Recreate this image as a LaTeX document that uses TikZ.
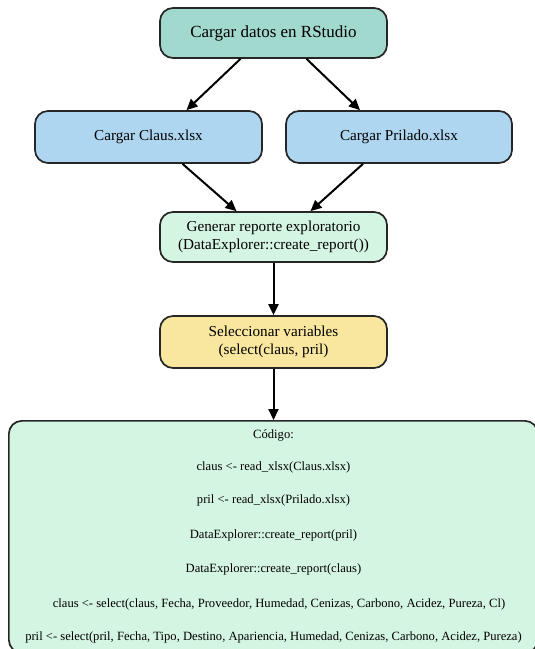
\documentclass[tikz,border=0pt]{standalone}
\usepackage{fontspec}
\setmainfont{Liberation Serif}
\usetikzlibrary{arrows.meta}
\definecolor{cTop}{HTML}{A2D9CE}
\definecolor{cBlue}{HTML}{AED6F1}
\definecolor{cGreen}{HTML}{D5F5E3}
\definecolor{cYellow}{HTML}{F9E79F}
\tikzset{
  box/.style={draw=black!85, line width=1.7pt, rounded corners=13pt, align=center, inner sep=0pt},
  arr/.style={line width=2pt, -{Triangle[length=11pt,width=10pt]}},
  codetxt/.style={font=\fontsize{12.6}{14}\selectfont, inner sep=0pt, anchor=center}
}
\begin{document}
\begin{tikzpicture}[x=1pt,y=1pt]
\useasboundingbox (0,0) rectangle (535,-649);
\clip (0,0) rectangle (535,-649);
\node[box, fill=cTop, minimum width=227pt, minimum height=50pt, font=\fontsize{17}{19}\selectfont] (top) at (273.5,-33) {Cargar datos en RStudio};
\node[box, fill=cBlue, minimum width=227pt, minimum height=52pt, font=\fontsize{15.2}{17}\selectfont] (claus) at (148.5,-137) {Cargar Claus.xlsx};
\node[box, fill=cBlue, minimum width=226pt, minimum height=52pt, font=\fontsize{15.2}{17}\selectfont] (pril) at (399,-137) {Cargar Prilado.xlsx};
\node[box, fill=cGreen, minimum width=227pt, minimum height=50pt, font=\fontsize{15.2}{18}\selectfont] (gen) at (273.5,-237) {Generar reporte exploratorio\\(DataExplorer::create\_report())};
\node[box, fill=cYellow, minimum width=227pt, minimum height=52pt, font=\fontsize{15.2}{18}\selectfont] (sel) at (273.5,-342) {Seleccionar variables\\(select(claus, pril)};
\node[box, fill=cGreen, minimum width=529pt, minimum height=232pt, anchor=north west] (code) at (8,-420) {};
\node[codetxt] (t1) at (273.5,-435) {Código:};
\node[codetxt] (t2) at (273.5,-467) {claus <- read\_xlsx(Claus.xlsx)};
\node[codetxt] (t3) at (273.5,-500) {pril <- read\_xlsx(Prilado.xlsx)};
\node[codetxt] (t4) at (273.5,-535) {DataExplorer::create\_report(pril)};
\node[codetxt] (t5) at (273.5,-569) {DataExplorer::create\_report(claus)};
\node[codetxt] (t6) at (279,-604) {claus <- select(claus, Fecha, Proveedor, Humedad, Cenizas, Carbono, Acidez, Pureza, Cl)};
\node[codetxt] (t7) at (273.5,-637) {pril <- select(pril, Fecha, Tipo, Destino, Apariencia, Humedad, Cenizas, Carbono, Acidez, Pureza)};
\draw[arr] ([xshift=-33pt]top.south) -- ([xshift=38pt]claus.north);
\draw[arr] ([xshift=33pt]top.south) -- ([xshift=-39pt]pril.north);
\draw[arr] ([xshift=34pt]claus.south) -- ([xshift=-37pt]gen.north);
\draw[arr] ([xshift=-36pt]pril.south) -- ([xshift=37pt]gen.north);
\draw[arr] (gen.south) -- (sel.north);
\draw[arr] (sel.south) -- (code.north -| sel.south);
\end{tikzpicture}
\end{document}
